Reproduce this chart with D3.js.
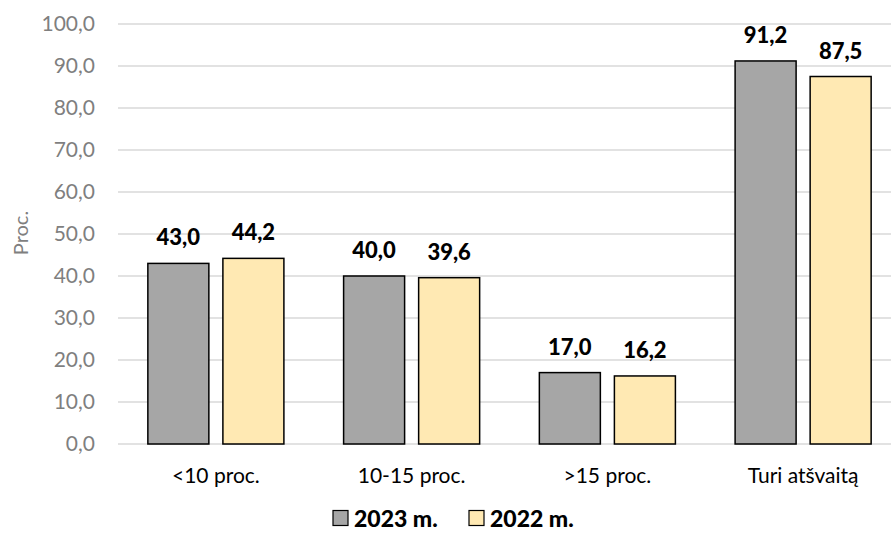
<!DOCTYPE html>
<html>
<head>
<meta charset="utf-8">
<script src="https://cdn.jsdelivr.net/npm/d3@7/dist/d3.min.js"></script>
<style>
  html, body { margin: 0; padding: 0; background: #fff; }
  svg { display: block; font-family: Lato, "Open Sans", sans-serif; }
</style>
</head>
<body>
<svg id="chart" width="891" height="540"></svg>
<script>
// Chart data
const categories = ["<10 proc.", "10-15 proc.", ">15 proc.", "Turi atšvaitą"];
const seriesNames = ["2023 m.", "2022 m."];
const values2023 = [43.0, 40.0, 17.0, 91.2];
const values2022 = [44.2, 39.6, 16.2, 87.5];
const yTicks = [0, 10, 20, 30, 40, 50, 60, 70, 80, 90, 100];
const yTitle = "Proc.";

const colors = ["#a6a6a6", "#ffe9b3"];
const series = [values2023, values2022];

const svg = d3.select("#chart");
const plot = { left: 118, right: 901, top: 24, bottom: 444 };

const fmt = v => d3.format(".1f")(v).replace(".", ",");

const x = d3.scaleBand()
  .domain(categories)
  .range([plot.left, plot.right])
  .paddingInner(0.305)
  .paddingOuter(0.1525);

const xs = d3.scaleBand()
  .domain(seriesNames)
  .range([0, x.bandwidth()])
  .paddingInner(0.187);

const y = d3.scaleLinear().domain([0, 100]).range([plot.bottom, plot.top]);

// Gridlines
svg.append("g").attr("class", "grid")
  .selectAll("line")
  .data(yTicks)
  .join("line")
  .attr("x1", plot.left)
  .attr("x2", plot.right)
  .attr("y1", d => y(d))
  .attr("y2", d => y(d))
  .attr("stroke", "#d9d9d9")
  .attr("stroke-width", 1.5);

// Y axis labels
const yAxis = d3.axisLeft(y).tickValues(yTicks).tickFormat(fmt).tickSize(0).tickPadding(0);
const yg = svg.append("g")
  .attr("transform", `translate(${plot.left - 23},0)`)
  .call(yAxis);
yg.select(".domain").remove();
yg.selectAll("text")
  .attr("fill", "#7f7f7f")
  .style("font-size", "21px")
  .style("font-family", "Lato, sans-serif");

// Y axis title
svg.append("text")
  .attr("transform", `translate(20,233) rotate(-90)`)
  .attr("text-anchor", "middle")
  .attr("dominant-baseline", "central")
  .attr("fill", "#7f7f7f")
  .style("font-size", "20px")
  .text(yTitle);

// Bars
const groups = svg.append("g").selectAll("g")
  .data(categories)
  .join("g")
  .attr("transform", d => `translate(${x(d)},0)`);

groups.selectAll("rect")
  .data((d, i) => series.map((s, j) => ({ name: seriesNames[j], value: s[i], color: colors[j] })))
  .join("rect")
  .attr("x", d => xs(d.name))
  .attr("width", xs.bandwidth())
  .attr("y", d => y(d.value))
  .attr("height", d => y(0) - y(d.value))
  .attr("fill", d => d.color)
  .attr("stroke", "#000")
  .attr("stroke-width", 1.5);

// Value labels
groups.selectAll("text.val")
  .data((d, i) => series.map((s, j) => ({ name: seriesNames[j], value: s[i] })))
  .join("text")
  .attr("class", "val")
  .attr("x", d => xs(d.name) + xs.bandwidth() / 2)
  .attr("y", d => y(d.value) - 18)
  .attr("text-anchor", "middle")
  .attr("fill", "#000")
  .style("font-size", "22px")
  .style("font-weight", "900")
  .text(d => fmt(d.value));

// Category labels
const xAxis = d3.axisBottom(x).tickSize(0).tickPadding(0);
const xg = svg.append("g")
  .attr("transform", `translate(0,${plot.bottom + 24})`)
  .call(xAxis);
xg.select(".domain").remove();
xg.selectAll("text")
  .attr("fill", "#000")
  .style("font-size", "21px")
  .style("font-family", "Lato, sans-serif");

// Legend
const legendItems = [
  { name: seriesNames[0], color: colors[0], x: 333 },
  { name: seriesNames[1], color: colors[1], x: 469 }
];
const lg = svg.append("g").selectAll("g")
  .data(legendItems)
  .join("g")
  .attr("transform", d => `translate(${d.x},518)`);
lg.append("rect")
  .attr("x", 0).attr("y", -7.5)
  .attr("width", 15).attr("height", 15)
  .attr("fill", d => d.color)
  .attr("stroke", "#000")
  .attr("stroke-width", 1.2);
lg.append("text")
  .attr("x", 21)
  .attr("y", 0)
  .attr("dominant-baseline", "central")
  .style("font-size", "23px")
  .style("font-weight", "900")
  .text(d => d.name);
</script>
</body>
</html>
